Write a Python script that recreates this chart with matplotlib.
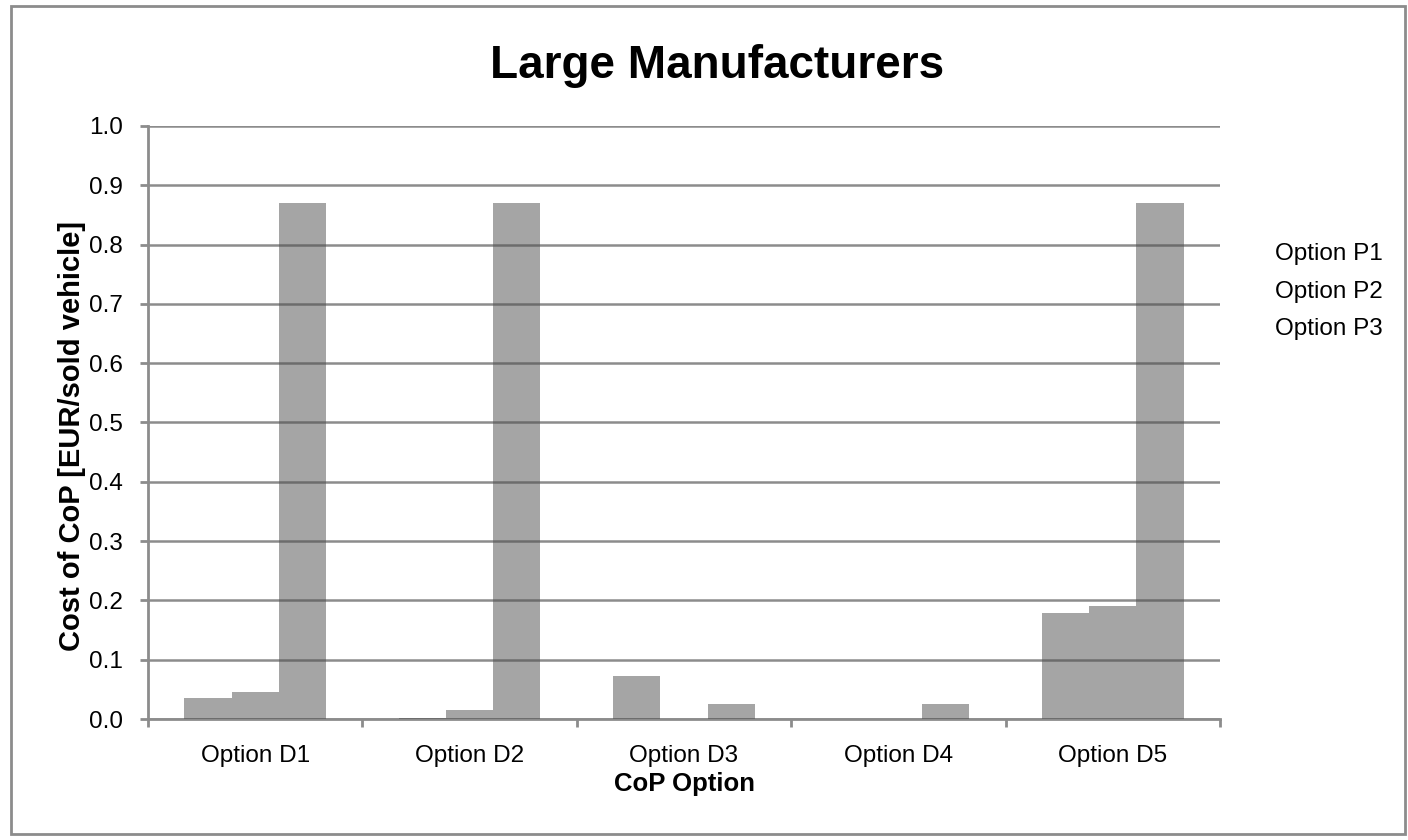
import matplotlib
matplotlib.use("Agg")
import matplotlib.pyplot as plt
import numpy as np
from matplotlib.patches import Rectangle

plt.rcParams["font.family"] = ["Liberation Sans", "DejaVu Sans"]

categories = ["Option D1", "Option D2", "Option D3", "Option D4", "Option D5"]
series_names = ["Option P1", "Option P2", "Option P3"]
p1 = [0.035, 0.002, 0.072, 0.0, 0.178]
p2 = [0.045, 0.015, 0.0, 0.0, 0.190]
p3 = [0.870, 0.870, 0.025, 0.025, 0.870]

fig = plt.figure(figsize=(14.08, 8.4), dpi=100)
ax = fig.add_axes([148 / 1408, 1 - 719 / 840, (1220 - 148) / 1408, (719 - 126) / 840])

# frame round the whole chart
fig.patches.append(Rectangle((11 / 1408, 6 / 840), 1394 / 1408, 828 / 840,
                             transform=fig.transFigure, fill=False,
                             edgecolor="#8c8c8c", linewidth=2))

x = np.arange(len(categories))
w = 0.22
for i, vals in enumerate([p1, p2, p3]):
  ax.bar(x + (i - 1) * w, vals, width=w, color="#4d4d4d", alpha=0.5,
         linewidth=0, zorder=3, label=series_names[i])

ax.set_xlim(-0.5, len(categories) - 0.5)
ax.set_ylim(0, 1.0)
ax.set_yticks(np.arange(0, 1.01, 0.1))
ax.set_yticklabels([f"{v:.1f}" for v in np.arange(0, 1.01, 0.1)], fontsize=17.5)
ax.set_xticks(x)
ax.set_xticklabels(categories, fontsize=17.5)
ax.set_xticks(np.arange(-0.5, len(categories), 1.0), minor=True)
ax.tick_params(axis="x", which="major", length=0, pad=19)
ax.tick_params(axis="x", which="minor", length=6, width=2, color="#8c8c8c")
ax.tick_params(axis="y", length=6, width=2, color="#8c8c8c", pad=12)

ax.grid(axis="y", color="#8c8c8c", linewidth=1.8, zorder=1)
ax.set_axisbelow(True)
for s in ["top", "right"]:
  ax.spines[s].set_visible(False)
for s in ["left", "bottom"]:
  ax.spines[s].set_color("#8c8c8c")
  ax.spines[s].set_linewidth(2)

ax.set_xlabel("CoP Option", fontsize=18.5, fontweight="bold", labelpad=3)
ax.set_ylabel("Cost of CoP [EUR/sold vehicle]", fontsize=21, fontweight="bold")
ax.yaxis.set_label_coords(-0.058, 0.477)
fig.text(717 / 1408, 1 - 66 / 840, "Large Manufacturers", ha="center", va="center",
         fontsize=33, fontweight="bold")

leg = ax.legend(loc="upper left", bbox_to_anchor=(1.031, 0.84), frameon=False,
                handlelength=0, handletextpad=0, fontsize=17.5, labelspacing=0.65)
for h in leg.legend_handles:
  h.set_visible(False)

fig.savefig("out.png", dpi=100)
